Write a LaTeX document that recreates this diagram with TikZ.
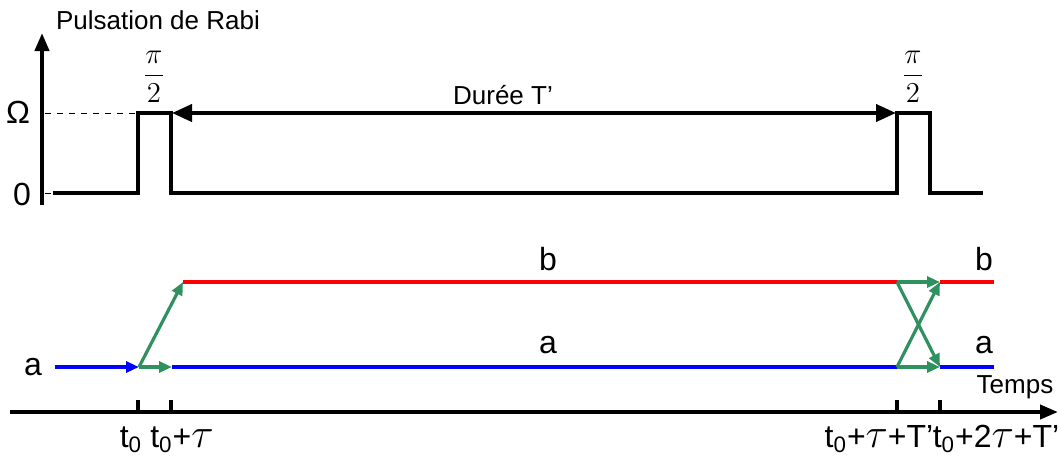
\documentclass[tikz,border=0pt]{standalone}
\usepackage{fontspec}
\setmainfont{Liberation Sans}
\usetikzlibrary{arrows.meta}
\definecolor{vert}{RGB}{46,145,95}
\newcommand{\tauu}{{\fontsize{22}{24}\selectfont$\tau$}}
\tikzset{>/.tip={Triangle[length=6.5pt,width=5.5pt]},
  big/.style={font=\fontsize{16}{18}\selectfont},
  small/.style={font=\fontsize{13}{15}\selectfont},
  frac/.style={font=\fontsize{14}{16}\selectfont},
  pulse/.style={line width=2pt,line join=miter},
  level/.style={line width=1.6pt}}

\begin{document}
\begin{tikzpicture}[x=0.5pt,y=-0.5pt]
\useasboundingbox (0,0) rectangle (1062,457);
\coordinate (o)  at (42,205);
\coordinate (oy) at (42,33);
\coordinate (ox) at (10,412);
\coordinate (ex) at (1058,412);
\node[small] (rabi) at (158,20) {Pulsation de Rabi};
\node[big] (om)   at (18,112) {Ω};
\node[big] (zero) at (22,194) {0};
\node[small] (temps) at (1015,387) {Temps};

\draw[line width=2pt,-{Triangle[length=9pt,width=7pt]}] (o) -- (oy);
\draw[line width=2pt,-{Triangle[length=9pt,width=7pt]}] (ox) -- (ex);
\draw[dashed,thin] (45,113) -- (138,113);
\draw[dashed,thin] (45,193) -- (53,193);

\draw[pulse] (53,193) -| (138,113) -| (171,193) -| (897,113) -| (930,193) -- (983,193);
\node[frac] (p1) at (154,77) {$\displaystyle\frac{\pi}{2}$};
\node[frac] (p2) at (913,77) {$\displaystyle\frac{\pi}{2}$};
\coordinate (d1) at (172,113);
\coordinate (d2) at (896,113);
\path[line width=2pt,{Triangle[length=10pt,width=8.5pt]}-{Triangle[length=10pt,width=8.5pt]}] (d1) edge (d2);
\node[small] (duree) at (503,95) {Durée T’};

\coordinate (a0) at (55,367);
\coordinate (a1) at (139,367);
\coordinate (a2) at (172,367);
\coordinate (a3) at (897,367);
\coordinate (a4) at (940,367);
\coordinate (a5) at (994,367);
\coordinate (b1) at (183,282);
\coordinate (b3) at (897,282);
\coordinate (b4) at (940,282);
\coordinate (b5) at (994,282);

\draw[level,blue,->] (a0) -- (a1);
\draw[level,blue] (a2) -- (a3) (a4) -- (a5);
\draw[level,red] (b1) -- (b3) (b4) -- (b5);
\path[level,vert,->] (a1) edge (b1) edge (a2);
\path[level,vert,->] (b3) edge (b4) edge (a4);
\path[level,vert,->] (a3) edge (a4) edge (b4);

\node[big] (la)  at (33,367)  {a};
\node[big] (mb)  at (548,259) {b};
\node[big] (ma)  at (548,345) {a};
\node[big] (rb)  at (984,259) {b};
\node[big] (ra)  at (984,345) {a};

\foreach \x in {138,171,897,940}
  \draw[line width=2pt] (\x,412) -- (\x,400);
\node[big,anchor=base] (t1) at (131,447) {t\textsubscript{0}};
\node[big,anchor=base] (t2) at (182,447) {t\textsubscript{0}+\tauu};
\node[big,anchor=base] (t3) at (879,447) {t\textsubscript{0}+\tauu+T’};
\node[big,anchor=base] (t4) at (996,447) {t\textsubscript{0}+2\tauu+T’};
\end{tikzpicture}
\end{document}
